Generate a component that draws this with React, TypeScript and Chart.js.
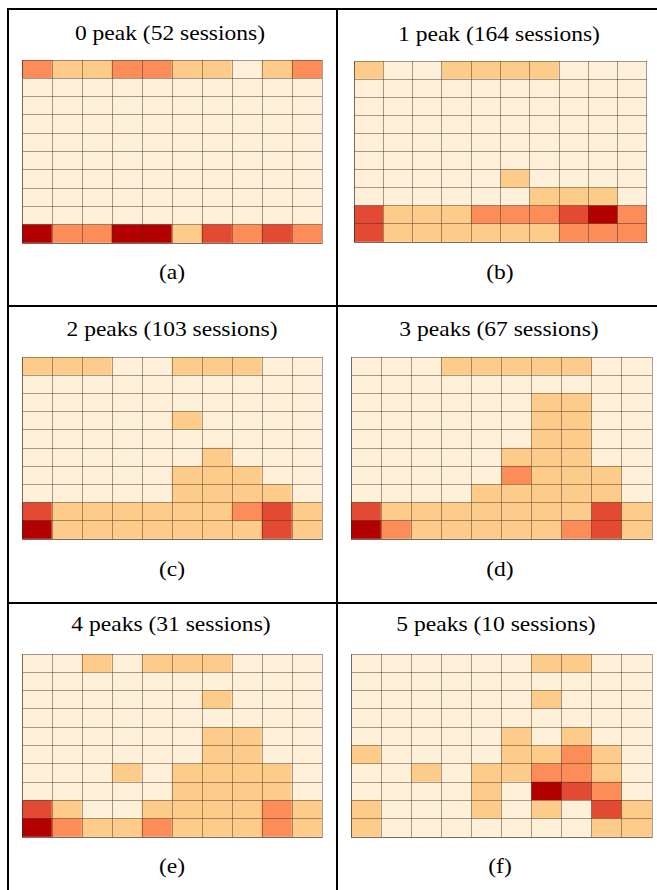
import React, { useEffect, useRef } from "react";
import { Chart, registerables } from "chart.js";

Chart.register(...registerables);

// OrRd 5-class palette, level 0..4
const LEVEL_COLORS = ["#fef0d9", "#fdcc8a", "#fc8d59", "#e34a33", "#b30000"];
const GRID_LINE_COLOR = "rgba(60,45,30,0.45)";

const COLUMNS = ["1", "2", "3", "4", "5", "6", "7", "8", "9", "10"];

const PANEL_TITLES = [
  "0 peak (52 sessions)",
  "1 peak (164 sessions)",
  "2 peaks (103 sessions)",
  "3 peaks (67 sessions)",
  "4 peaks (31 sessions)",
  "5 peaks (10 sessions)",
];
const PANEL_LABELS = ["(a)", "(b)", "(c)", "(d)", "(e)", "(f)"];

// rows listed top to bottom, values are colour levels
const GRID_A = [
  [2, 1, 1, 2, 2, 1, 1, 0, 1, 2],
  [0, 0, 0, 0, 0, 0, 0, 0, 0, 0],
  [0, 0, 0, 0, 0, 0, 0, 0, 0, 0],
  [0, 0, 0, 0, 0, 0, 0, 0, 0, 0],
  [0, 0, 0, 0, 0, 0, 0, 0, 0, 0],
  [0, 0, 0, 0, 0, 0, 0, 0, 0, 0],
  [0, 0, 0, 0, 0, 0, 0, 0, 0, 0],
  [0, 0, 0, 0, 0, 0, 0, 0, 0, 0],
  [0, 0, 0, 0, 0, 0, 0, 0, 0, 0],
  [4, 2, 2, 4, 4, 1, 3, 2, 3, 2],
];
const GRID_B = [
  [1, 0, 0, 1, 1, 1, 1, 0, 0, 0],
  [0, 0, 0, 0, 0, 0, 0, 0, 0, 0],
  [0, 0, 0, 0, 0, 0, 0, 0, 0, 0],
  [0, 0, 0, 0, 0, 0, 0, 0, 0, 0],
  [0, 0, 0, 0, 0, 0, 0, 0, 0, 0],
  [0, 0, 0, 0, 0, 0, 0, 0, 0, 0],
  [0, 0, 0, 0, 0, 1, 0, 0, 0, 0],
  [0, 0, 0, 0, 0, 0, 1, 1, 1, 0],
  [3, 1, 1, 1, 2, 2, 2, 3, 4, 2],
  [3, 1, 1, 1, 1, 1, 1, 2, 2, 2],
];
const GRID_C = [
  [1, 1, 1, 0, 0, 1, 1, 1, 0, 0],
  [0, 0, 0, 0, 0, 0, 0, 0, 0, 0],
  [0, 0, 0, 0, 0, 0, 0, 0, 0, 0],
  [0, 0, 0, 0, 0, 1, 0, 0, 0, 0],
  [0, 0, 0, 0, 0, 0, 0, 0, 0, 0],
  [0, 0, 0, 0, 0, 0, 1, 0, 0, 0],
  [0, 0, 0, 0, 0, 1, 1, 1, 0, 0],
  [0, 0, 0, 0, 0, 1, 1, 1, 1, 0],
  [3, 1, 1, 1, 1, 1, 1, 2, 3, 1],
  [4, 1, 1, 1, 1, 1, 1, 1, 3, 1],
];
const GRID_D = [
  [0, 0, 0, 1, 1, 1, 1, 1, 0, 0],
  [0, 0, 0, 0, 0, 0, 0, 0, 0, 0],
  [0, 0, 0, 0, 0, 0, 1, 1, 0, 0],
  [0, 0, 0, 0, 0, 0, 1, 1, 0, 0],
  [0, 0, 0, 0, 0, 0, 1, 1, 0, 0],
  [0, 0, 0, 0, 0, 1, 1, 1, 0, 0],
  [0, 0, 0, 0, 0, 2, 1, 1, 1, 0],
  [0, 0, 0, 0, 1, 1, 1, 1, 1, 0],
  [3, 1, 1, 1, 1, 1, 1, 1, 3, 1],
  [4, 2, 1, 1, 1, 1, 1, 2, 3, 1],
];
const GRID_E = [
  [0, 0, 1, 0, 1, 1, 1, 0, 0, 0],
  [0, 0, 0, 0, 0, 0, 0, 0, 0, 0],
  [0, 0, 0, 0, 0, 0, 1, 0, 0, 0],
  [0, 0, 0, 0, 0, 0, 0, 0, 0, 0],
  [0, 0, 0, 0, 0, 0, 1, 1, 0, 0],
  [0, 0, 0, 0, 0, 0, 1, 1, 0, 0],
  [0, 0, 0, 1, 0, 1, 1, 1, 1, 0],
  [0, 0, 0, 0, 0, 1, 1, 1, 1, 0],
  [3, 1, 0, 0, 1, 1, 1, 1, 2, 1],
  [4, 2, 1, 1, 2, 1, 1, 1, 2, 1],
];
const GRID_F = [
  [0, 0, 0, 0, 0, 0, 1, 1, 0, 0],
  [0, 0, 0, 0, 0, 0, 0, 0, 0, 0],
  [0, 0, 0, 0, 0, 0, 1, 0, 0, 0],
  [0, 0, 0, 0, 0, 0, 0, 0, 0, 0],
  [0, 0, 0, 0, 0, 1, 0, 1, 0, 0],
  [1, 0, 0, 0, 0, 1, 1, 2, 1, 0],
  [0, 0, 1, 0, 1, 1, 2, 2, 1, 0],
  [0, 0, 0, 0, 1, 0, 4, 3, 2, 0],
  [1, 0, 0, 0, 1, 0, 1, 0, 3, 1],
  [1, 0, 0, 0, 0, 0, 0, 0, 1, 1],
];
const GRIDS = [GRID_A, GRID_B, GRID_C, GRID_D, GRID_E, GRID_F];

// layout (page pixels)
const HEAT_BOXES = [
  { left: 22, top: 60, width: 300, height: 183 },
  { left: 354, top: 61, width: 293, height: 181 },
  { left: 22, top: 357, width: 300, height: 182 },
  { left: 351, top: 357, width: 301, height: 182 },
  { left: 22, top: 654, width: 300, height: 183 },
  { left: 351, top: 654, width: 301, height: 183 },
];
const TITLE_POS = [
  { x: 170, y: 33 },
  { x: 499, y: 34 },
  { x: 172, y: 329 },
  { x: 499, y: 329 },
  { x: 171, y: 624 },
  { x: 496, y: 624 },
];
const LABEL_POS = [
  { x: 172, y: 272 },
  { x: 500, y: 272 },
  { x: 172, y: 569 },
  { x: 500, y: 569 },
  { x: 172, y: 866 },
  { x: 500, y: 866 },
];

function HeatPanel({ grid, box }: { grid: number[][]; box: { left: number; top: number; width: number; height: number } }) {
  const ref = useRef<HTMLCanvasElement | null>(null);
  useEffect(() => {
    if (!ref.current) return;
    const nRows = grid.length;
    const datasets = grid
      .slice()
      .reverse()
      .map((row, i) => ({
        label: "row " + (nRows - i),
        data: row.map(() => 1),
        backgroundColor: row.map((v) => LEVEL_COLORS[v]),
        borderWidth: 0,
        barPercentage: 1,
        categoryPercentage: 1,
      }));
    const chart = new Chart(ref.current, {
      type: "bar",
      data: { labels: COLUMNS, datasets },
      options: {
        animation: false,
        responsive: false,
        maintainAspectRatio: false,
        devicePixelRatio: 1,
        layout: { padding: 1 },
        events: [],
        plugins: { legend: { display: false }, tooltip: { enabled: false }, title: { display: false } },
        scales: {
          x: {
            stacked: true,
            offset: true,
            ticks: { display: false },
            grid: { offset: true, z: 1, color: GRID_LINE_COLOR, drawTicks: false, lineWidth: 1 },
            border: { display: true, color: GRID_LINE_COLOR, z: 1 },
          },
          y: {
            stacked: true,
            min: 0,
            max: nRows,
            ticks: { display: false, stepSize: 1 },
            grid: { z: 1, color: GRID_LINE_COLOR, drawTicks: false, lineWidth: 1 },
            border: { display: true, color: GRID_LINE_COLOR, z: 1 },
          },
        },
      },
    });
    return () => chart.destroy();
  }, [grid]);
  return (
    <canvas
      ref={ref}
      width={box.width + 2}
      height={box.height + 2}
      style={{ position: "absolute", left: box.left - 1, top: box.top - 1, width: box.width + 2, height: box.height + 2 }}
    />
  );
}

const textStyle = (x: number, y: number): React.CSSProperties => ({
  position: "absolute",
  left: x,
  top: y,
  transform: "translate(-50%, -50%) scaleX(1.12)",
  fontFamily: '"Liberation Serif", "Times New Roman", serif',
  fontSize: 21,
  lineHeight: "24px",
  whiteSpace: "nowrap",
  color: "#000",
});

const line = (left: number, top: number, width: number, height: number): React.CSSProperties => ({
  position: "absolute",
  left,
  top,
  width,
  height,
  background: "#000",
});

export default function App() {
  return (
    <div style={{ position: "fixed", left: 0, top: 0, width: 657, height: 890, overflow: "hidden", background: "#fff" }}>
      {/* table frame */}
      <div style={line(7, 8, 700, 2)} />
      <div style={line(7, 8, 2, 900)} />
      <div style={line(336, 8, 2, 900)} />
      <div style={line(7, 305, 700, 2)} />
      <div style={line(7, 602, 700, 2)} />
      {GRIDS.map((g, i) => (
        <HeatPanel key={i} grid={g} box={HEAT_BOXES[i]} />
      ))}
      {PANEL_TITLES.map((t, i) => (
        <div key={"t" + i} style={textStyle(TITLE_POS[i].x, TITLE_POS[i].y)}>
          {t}
        </div>
      ))}
      {PANEL_LABELS.map((t, i) => (
        <div key={"l" + i} style={textStyle(LABEL_POS[i].x, LABEL_POS[i].y)}>
          {t}
        </div>
      ))}
    </div>
  );
}
